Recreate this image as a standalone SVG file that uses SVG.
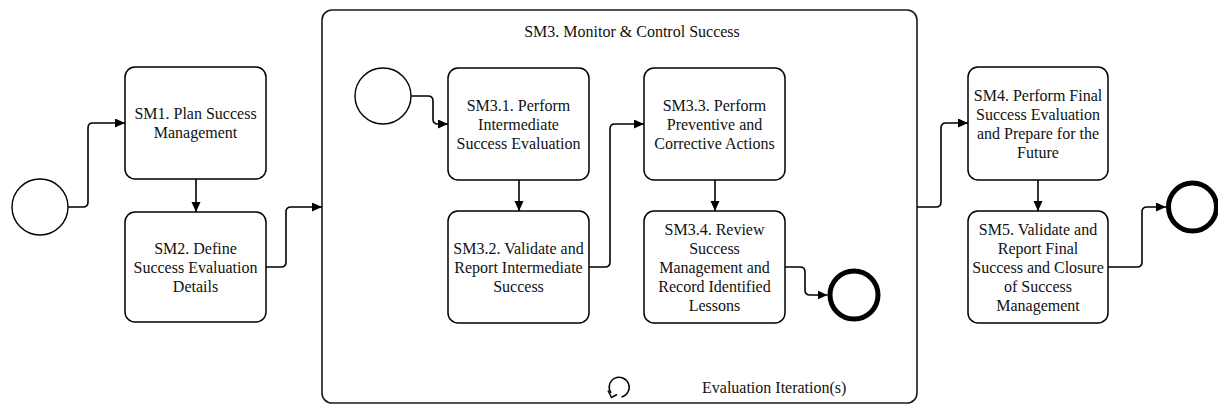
<svg xmlns="http://www.w3.org/2000/svg" width="1218" height="406" viewBox="0 0 1218 406">
<defs>
<marker id="arr" markerUnits="userSpaceOnUse" markerWidth="11" markerHeight="10" refX="10" refY="4.5" orient="auto">
<path d="M0,0 L10,4.5 L0,9 z" fill="#000"/>
</marker>
<style>
.task{fill:#fff;stroke:#000;stroke-width:1.5}
.sub{fill:#fff;stroke:#1a1a1a;stroke-width:1.6}
.start{fill:#fff;stroke:#000;stroke-width:1.4}
.end{fill:#fff;stroke:#000;stroke-width:5}
.conn{fill:none;stroke:#000;stroke-width:1.6}
text{font-family:"Liberation Serif","Times New Roman",serif;font-size:16px;fill:#111;text-anchor:middle}
</style>
</defs>
<rect width="1218" height="406" fill="#fff"/>

<g id="SM3">
<rect class="sub" x="322" y="10" width="595" height="393" rx="10"/>
<text x="632" y="37">SM3. Monitor &amp; Control Success</text>
<text x="702" y="393" style="text-anchor:start">Evaluation Iteration(s)</text>
<g id="loop" fill="none" stroke="#000" stroke-width="1.5">
<path d="M621.5,397 A10,10 0 1 0 611,393"/>
<path d="M608,390.5 L611.5,397.5 L617,394.5"/>
</g>
</g>

<g id="start">
<circle class="start" cx="40" cy="207" r="28"/>
</g>
<g id="SM1">
<rect class="task" x="125" y="67" width="141" height="112" rx="10"/>
<text x="195.5" y="119">SM1. Plan Success</text>
<text x="195.5" y="138">Management</text>
</g>
<g id="SM2">
<rect class="task" x="125" y="212" width="141" height="110" rx="10"/>
<text x="195.5" y="254">SM2. Define</text>
<text x="195.5" y="273">Success Evaluation</text>
<text x="195.5" y="292">Details</text>
</g>

<g id="start31">
<circle class="start" cx="383" cy="96" r="28"/>
</g>
<g id="SM3_1">
<rect class="task" x="448" y="68" width="141" height="112" rx="10"/>
<text x="518.5" y="110.5">SM3.1. Perform</text>
<text x="518.5" y="129.5">Intermediate</text>
<text x="518.5" y="148.5">Success Evaluation</text>
</g>
<g id="SM3_2">
<rect class="task" x="448" y="211" width="141" height="112" rx="10"/>
<text x="518.5" y="253.5">SM3.2. Validate and</text>
<text x="518.5" y="272.5">Report Intermediate</text>
<text x="518.5" y="291.5">Success</text>
</g>
<g id="SM3_3">
<rect class="task" x="644" y="68" width="141" height="112" rx="10"/>
<text x="714.5" y="110.5">SM3.3. Perform</text>
<text x="714.5" y="129.5">Preventive and</text>
<text x="714.5" y="148.5">Corrective Actions</text>
</g>
<g id="SM3_4">
<rect class="task" x="644" y="211" width="141" height="112" rx="10"/>
<text x="714.5" y="234.5">SM3.4. Review</text>
<text x="714.5" y="253.5">Success</text>
<text x="714.5" y="272.5">Management and</text>
<text x="714.5" y="291.5">Record Identified</text>
<text x="714.5" y="310.5">Lessons</text>
</g>
<g id="end3">
<circle class="end" cx="854" cy="295" r="24"/>
</g>

<g id="SM4">
<rect class="task" x="968" y="67" width="140" height="113" rx="10"/>
<text x="1038" y="100.5">SM4. Perform Final</text>
<text x="1038" y="119.5">Success Evaluation</text>
<text x="1038" y="138.5">and Prepare for the</text>
<text x="1038" y="157.5">Future</text>
</g>
<g id="SM5">
<rect class="task" x="968" y="211" width="140" height="112" rx="10"/>
<text x="1038" y="234.5">SM5. Validate and</text>
<text x="1038" y="253.5">Report Final</text>
<text x="1038" y="272.5">Success and Closure</text>
<text x="1038" y="291.5">of Success</text>
<text x="1038" y="310.5">Management</text>
</g>
<g id="end">
<circle class="end" cx="1192.5" cy="207" r="24"/>
</g>

<g id="connectors">
<path class="conn" marker-end="url(#arr)" d="M68,207 H83 Q88,207 88,202 V128 Q88,123 93,123 H125"/>
<path class="conn" marker-end="url(#arr)" d="M196,179 V212"/>
<path class="conn" marker-end="url(#arr)" d="M266,267 H281 Q286,267 286,262 V212 Q286,207 291,207 H322"/>
<path class="conn" marker-end="url(#arr)" d="M411,96 H428 Q433,96 433,101 V119 Q433,124 438,124 H448"/>
<path class="conn" marker-end="url(#arr)" d="M519,180 V211"/>
<path class="conn" marker-end="url(#arr)" d="M589,267 H605 Q610,267 610,262 V129 Q610,124 615,124 H644"/>
<path class="conn" marker-end="url(#arr)" d="M715,180 V211"/>
<path class="conn" marker-end="url(#arr)" d="M785,267 H800 Q805,267 805,272 V290 Q805,295 810,295 H827.5"/>
<path class="conn" marker-end="url(#arr)" d="M917,207 H936 Q941,207 941,202 V128 Q941,123 946,123 H968"/>
<path class="conn" marker-end="url(#arr)" d="M1038,180 V211"/>
<path class="conn" marker-end="url(#arr)" d="M1108,267 H1137 Q1142,267 1142,262 V212 Q1142,207 1147,207 H1166"/>
</g>
</svg>
